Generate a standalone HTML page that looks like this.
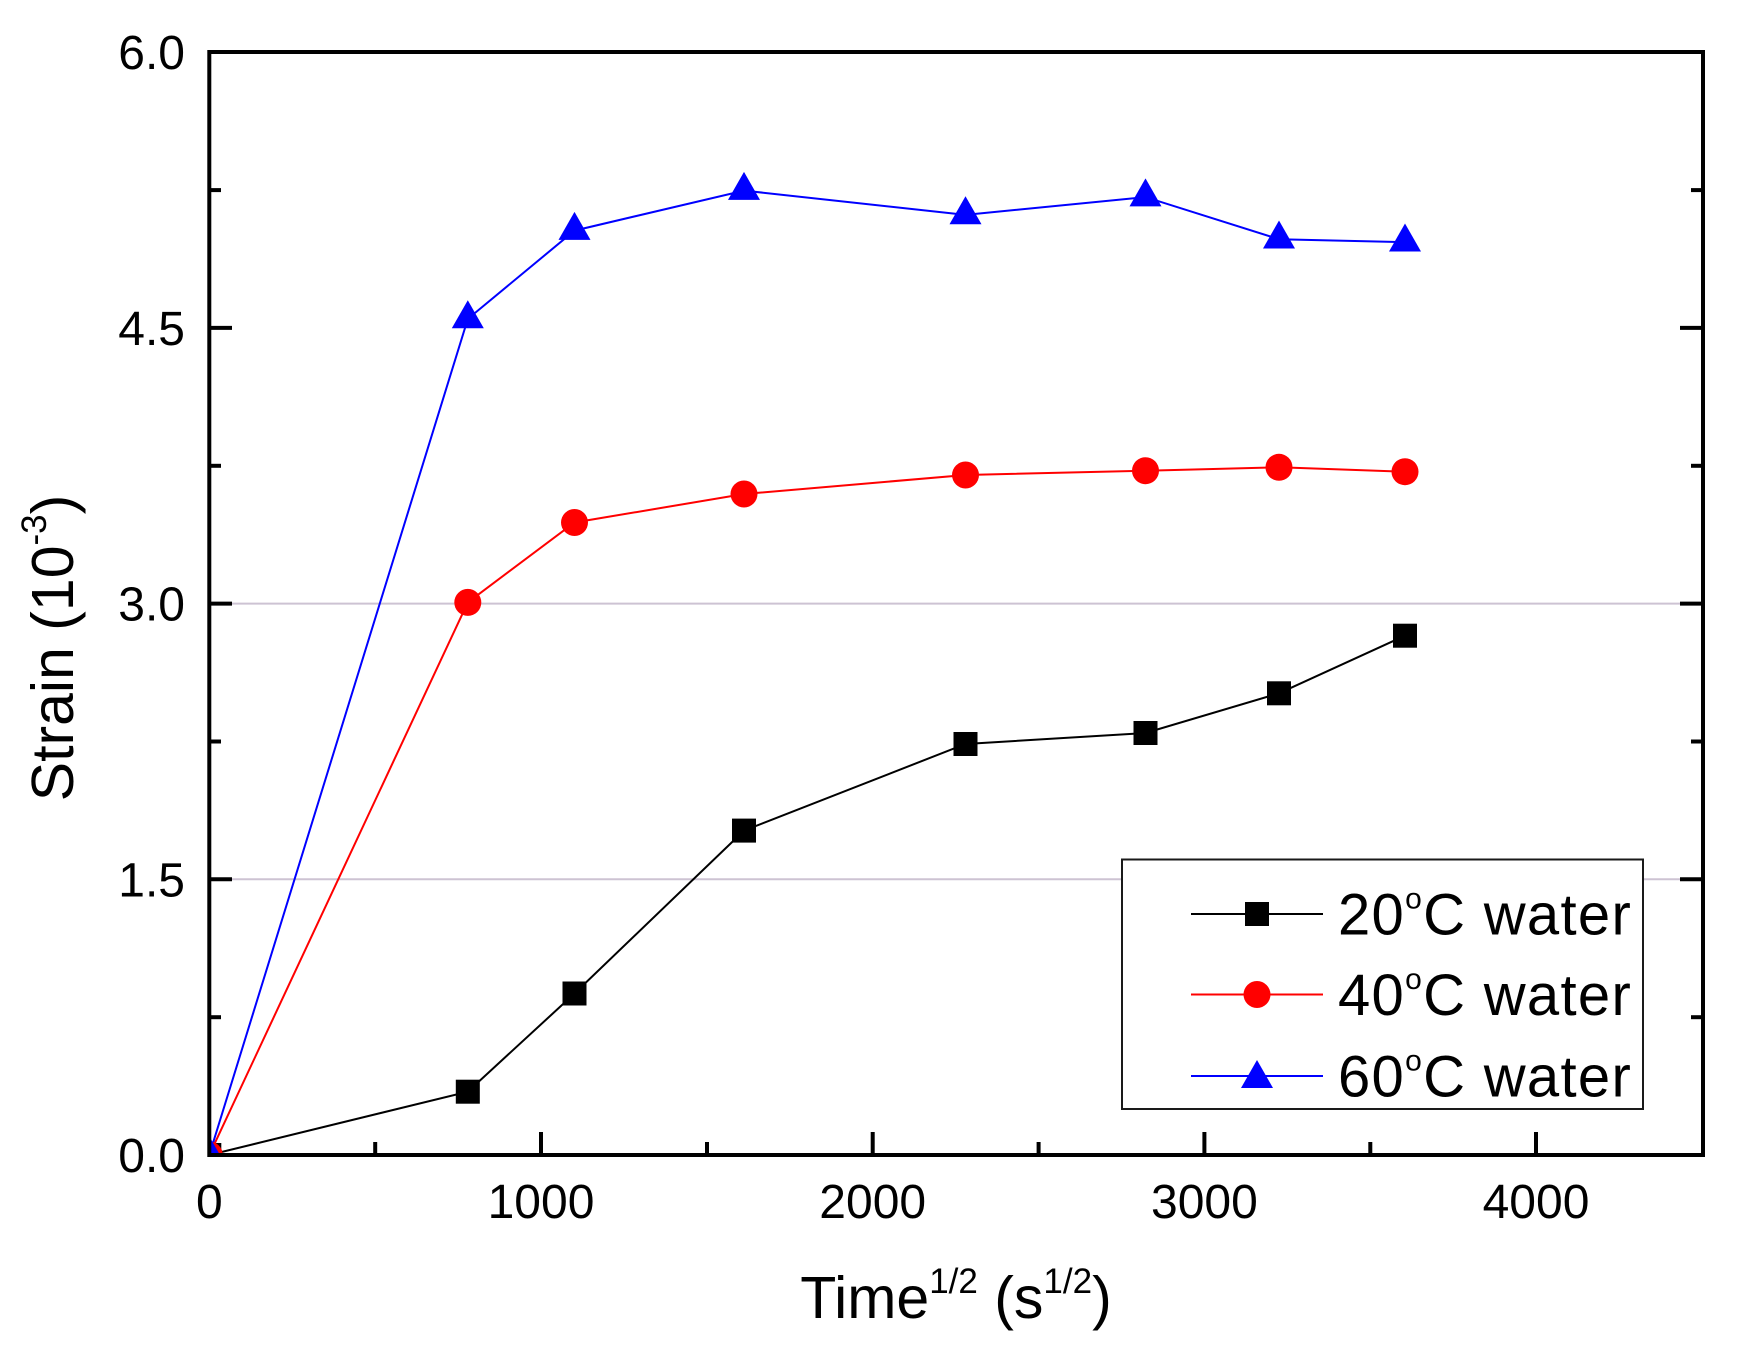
<!DOCTYPE html>
<html>
<head>
<meta charset="utf-8">
<style>
  html, body { margin: 0; padding: 0; background: #ffffff; }
  svg { display: block; }
  text { font-family: "Liberation Sans", Arial, sans-serif; fill: #000; }
</style>
</head>
<body>
<svg width="1748" height="1360" viewBox="0 0 1748 1360" xmlns="http://www.w3.org/2000/svg">
  <rect x="0" y="0" width="1748" height="1360" fill="#ffffff"/>
  <defs>
    <clipPath id="plot">
      <rect x="209.3" y="52" width="1493.7" height="1103"/>
    </clipPath>
  </defs>

  <!-- gridlines -->
  <line x1="209.3" y1="879.3" x2="1703" y2="879.3" stroke="#cdc3d3" stroke-width="2"/>
  <line x1="209.3" y1="603.6" x2="1703" y2="603.6" stroke="#cdc3d3" stroke-width="2"/>

  <g clip-path="url(#plot)">
    <!-- series lines -->
    <polyline fill="none" stroke="#000000" stroke-width="2"
      points="209.3,1155 467.8,1091.7 574.5,993.5 744,830.6 965.5,744 1145.5,733 1279,693.3 1405,635.7"/>
    <polyline fill="none" stroke="#ff0000" stroke-width="2"
      points="209.3,1155 467.8,602.4 574.5,522.5 744,494 965.5,475 1145.5,470.7 1279,467.3 1405,471.7"/>
    <polyline fill="none" stroke="#0000ff" stroke-width="2"
      points="209.3,1155 467.8,318.9 574.5,230.6 744,190.6 965.5,214.9 1145.5,197.1 1279,239.2 1405,242.2"/>

    <!-- black squares -->
    <g fill="#000000">
      <rect x="197.3" y="1143" width="24" height="24"/>
      <rect x="455.8" y="1079.7" width="24" height="24"/>
      <rect x="562.5" y="981.5" width="24" height="24"/>
      <rect x="732" y="818.6" width="24" height="24"/>
      <rect x="953.5" y="732" width="24" height="24"/>
      <rect x="1133.5" y="721" width="24" height="24"/>
      <rect x="1267" y="681.3" width="24" height="24"/>
      <rect x="1393" y="623.7" width="24" height="24"/>
    </g>
    <!-- red circles -->
    <g fill="#ff0000">
      <circle cx="209.3" cy="1155" r="13.5"/>
      <circle cx="467.8" cy="602.4" r="13.5"/>
      <circle cx="574.5" cy="522.5" r="13.5"/>
      <circle cx="744" cy="494" r="13.5"/>
      <circle cx="965.5" cy="475" r="13.5"/>
      <circle cx="1145.5" cy="470.7" r="13.5"/>
      <circle cx="1279" cy="467.3" r="13.5"/>
      <circle cx="1405" cy="471.7" r="13.5"/>
    </g>
    <!-- blue triangles -->
    <g fill="#0000ff">
      <polygon points="209.3,1136.3 193.3,1164.3 225.3,1164.3"/>
      <polygon points="467.8,300.2 451.8,328.2 483.8,328.2"/>
      <polygon points="574.5,211.9 558.5,239.9 590.5,239.9"/>
      <polygon points="744,171.9 728,199.9 760,199.9"/>
      <polygon points="965.5,196.2 949.5,224.2 981.5,224.2"/>
      <polygon points="1145.5,178.4 1129.5,206.4 1161.5,206.4"/>
      <polygon points="1279,220.5 1263,248.5 1295,248.5"/>
      <polygon points="1405,223.5 1389,251.5 1421,251.5"/>
    </g>
  </g>

  <!-- ticks -->
  <g stroke="#000000" stroke-width="4">
    <!-- left axis -->
    <line x1="209.3" y1="879.3" x2="232" y2="879.3"/>
    <line x1="209.3" y1="603.6" x2="232" y2="603.6"/>
    <line x1="209.3" y1="327.9" x2="232" y2="327.9"/>
    <line x1="209.3" y1="1017.2" x2="221" y2="1017.2"/>
    <line x1="209.3" y1="741.5" x2="221" y2="741.5"/>
    <line x1="209.3" y1="465.8" x2="221" y2="465.8"/>
    <line x1="209.3" y1="190.1" x2="221" y2="190.1"/>
    <!-- right axis -->
    <line x1="1703" y1="879.3" x2="1680" y2="879.3"/>
    <line x1="1703" y1="603.6" x2="1680" y2="603.6"/>
    <line x1="1703" y1="327.9" x2="1680" y2="327.9"/>
    <line x1="1703" y1="1017.2" x2="1691" y2="1017.2"/>
    <line x1="1703" y1="741.5" x2="1691" y2="741.5"/>
    <line x1="1703" y1="465.8" x2="1691" y2="465.8"/>
    <line x1="1703" y1="190.1" x2="1691" y2="190.1"/>
    <!-- bottom axis -->
    <line x1="541" y1="1155" x2="541" y2="1132"/>
    <line x1="872.7" y1="1155" x2="872.7" y2="1132"/>
    <line x1="1204.4" y1="1155" x2="1204.4" y2="1132"/>
    <line x1="1536" y1="1155" x2="1536" y2="1132"/>
    <line x1="375.2" y1="1155" x2="375.2" y2="1142"/>
    <line x1="707" y1="1155" x2="707" y2="1142"/>
    <line x1="1038.6" y1="1155" x2="1038.6" y2="1142"/>
    <line x1="1370.3" y1="1155" x2="1370.3" y2="1142"/>
  </g>

  <!-- frame -->
  <rect x="209.3" y="52" width="1493.7" height="1103" fill="none" stroke="#000000" stroke-width="4"/>

  <!-- legend -->
  <rect x="1122" y="859.5" width="521" height="249.5" fill="#ffffff" stroke="#1a1a1a" stroke-width="2"/>
  <line x1="1191" y1="914" x2="1323" y2="914" stroke="#000000" stroke-width="2"/>
  <rect x="1245" y="902" width="24" height="24" fill="#000000"/>
  <line x1="1191" y1="994.5" x2="1323" y2="994.5" stroke="#ff0000" stroke-width="2"/>
  <circle cx="1257" cy="994.5" r="13.5" fill="#ff0000"/>
  <line x1="1191" y1="1076" x2="1323" y2="1076" stroke="#0000ff" stroke-width="2"/>
  <polygon points="1257,1060 1241,1088 1273,1088" fill="#0000ff"/>

  <g font-size="58" letter-spacing="1.3">
    <text x="1338" y="934.5">20<tspan font-size="30" dy="-26">o</tspan><tspan dy="26">C water</tspan></text>
    <text x="1338" y="1015">40<tspan font-size="30" dy="-26">o</tspan><tspan dy="26">C water</tspan></text>
    <text x="1338" y="1096.5">60<tspan font-size="30" dy="-26">o</tspan><tspan dy="26">C water</tspan></text>
  </g>

  <!-- y tick labels -->
  <g font-size="48" text-anchor="end">
    <text x="185" y="1172">0.0</text>
    <text x="185" y="896.3">1.5</text>
    <text x="185" y="620.6">3.0</text>
    <text x="185" y="344.9">4.5</text>
    <text x="185" y="69">6.0</text>
  </g>

  <!-- x tick labels -->
  <g font-size="48" text-anchor="middle">
    <text x="209.3" y="1218">0</text>
    <text x="541" y="1218">1000</text>
    <text x="872.7" y="1218">2000</text>
    <text x="1204.4" y="1218">3000</text>
    <text x="1536" y="1218">4000</text>
  </g>

  <!-- axis titles -->
  <text x="956" y="1318" font-size="59" text-anchor="middle">Time<tspan font-size="35" dy="-25">1/2</tspan><tspan dy="25"> (s</tspan><tspan font-size="35" dy="-25">1/2</tspan><tspan dy="25">)</tspan></text>

  <text transform="translate(73,648) rotate(-90)" font-size="59" text-anchor="middle">Strain (10<tspan font-size="35" dy="-27">-3</tspan><tspan dy="27">)</tspan></text>
</svg>
</body>
</html>
